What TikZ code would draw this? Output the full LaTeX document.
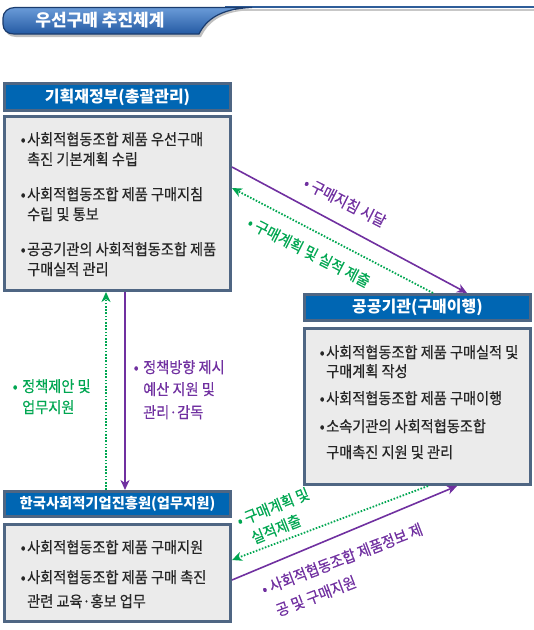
\documentclass[tikz,border=0pt]{standalone}
\usepackage{fontspec}
\setmainfont{Noto Sans CJK KR}
\newfontfamily\krn[FakeStretch=0.915,FakeBold=0.4]{Noto Sans CJK KR}
\usetikzlibrary{arrows.meta,calc}
\definecolor{hdrblue}{HTML}{0066B3}
\definecolor{slate}{HTML}{4F6683}
\definecolor{bodygray}{HTML}{EBEBEB}
\definecolor{txtcol}{HTML}{262626}
\definecolor{purp}{HTML}{7030A0}
\definecolor{grn}{HTML}{00A651}
\definecolor{navy}{HTML}{1B3C6E}
\definecolor{tabtop}{HTML}{6A9BD8}
\definecolor{tabbot}{HTML}{245AA3}
\definecolor{rule}{HTML}{2F5D99}
\newcommand\bt{\krn\fontsize{15.5}{18}\selectfont}
\newcommand\blt[1]{\makebox[#1][c]{•}}
\begin{document}
\begin{tikzpicture}[x=1pt,y=-1pt,
  hdr/.style={draw=slate,line width=3pt,fill=hdrblue,minimum width=226pt,text=white,
    font=\fontsize{16}{18}\selectfont\bfseries,inner sep=0pt},
  bodybox/.style={draw=slate,line width=3pt,fill=bodygray,minimum width=226pt,inner sep=0pt},
  ln/.style={anchor=base west,inner sep=0pt,font=\bt,text=txtcol},
  glab/.style={anchor=base west,inner sep=0pt,font=\bt,text=grn},
  plab/.style={anchor=base west,inner sep=0pt,font=\bt,text=purp},
  rlab/.style={inner sep=0pt,font=\bt},
  parr/.style={draw=purp,line width=1.6pt,-{Stealth[length=10pt,width=9pt,inset=3pt]}},
  garr/.style={draw=grn,line width=1.8pt,dash pattern=on 1.6pt off 1.6pt,-{Stealth[length=10pt,width=9pt,inset=3pt]}}
]
\useasboundingbox (0,0) rectangle (534,630);

% title banner
\draw[black!22,line width=2pt] (235,10) -- (534,10);
\draw[rule,line width=1.6pt] (225,7) -- (534,7);
\path[fill=black!25] (17,10.5) -- (247,10.5) .. controls (220,12) and (208,23) .. (201,37) -- (16,37) .. controls (9,37) and (5,33) .. (5,27) -- (5,21) .. controls (5,15) and (10,10.5) .. (17,10.5) -- cycle;
\draw[navy,line width=1.2pt,top color=tabtop,bottom color=tabbot] (15,7.5) -- (252,7.5) .. controls (220,8.5) and (206,20) .. (199,34) -- (14,34) .. controls (7,34) and (3,30) .. (3,24) -- (3,18) .. controls (3,12) and (8,7.5) .. (15,7.5) -- cycle;
\node[font=\fontsize{17}{19}\selectfont\bfseries,text=white,inner sep=0pt] (ttl) at (100,20.5) {우선구매 추진체계};

% box 1
\node[hdr,minimum height=27pt] (h1) at (117.5,97) {기획재정부(총괄관리)};
\node[bodybox,minimum height=174pt] (b1) at (117.5,203.5) {};
\node[ln] (t11) at (19,145) {\blt{8pt}사회적협동조합 제품 우선구매};
\node[ln] (t12) at (27,165) {촉진 기본계획 수립};
\node[ln] (t13) at (19,200) {\blt{8pt}사회적협동조합 제품 구매지침};
\node[ln] (t14) at (27,220) {수립 및 통보};
\node[ln] (t15) at (19,255) {\blt{8pt}공공기관의 사회적협동조합 제품};
\node[ln] (t16) at (27,275) {구매실적 관리};

% box 2
\node[hdr,minimum height=26pt] (h2) at (417.5,307.5) {공공기관(구매이행)};
\node[bodybox,minimum height=156pt] (b2) at (417.5,406.5) {};
\node[ln] (t21) at (318,358) {\blt{8pt}사회적협동조합 제품 구매실적 및};
\node[ln] (t22) at (326,377) {구매계획 작성};
\node[ln] (t23) at (318,404) {\blt{8pt}사회적협동조합 제품 구매이행};
\node[ln] (t24) at (318,432) {\blt{8pt}소속기관의 사회적협동조합};
\node[ln] (t25) at (326,458) {구매촉진 지원 및 관리};

% box 3
\node[hdr,minimum height=25pt,font=\fontsize{14.3}{16}\selectfont\bfseries] (h3) at (117.5,504) {한국사회적기업진흥원(업무지원)};
\node[bodybox,minimum height=97pt] (b3) at (117.5,573) {};
\node[ln] (t31) at (19,553) {\blt{8pt}사회적협동조합 제품 구매지원};
\node[ln] (t32) at (19,583) {\blt{8pt}사회적협동조합 제품 구매 촉진};
\node[ln] (t33) at (27,607) {관련 교육·홍보 업무};

% connectors
\draw[parr] ($(b1.north east)+(0,52)$) -- ($(h2.north west)+(164,0)$);
\draw[garr] ($(h2.north west)+(130,0)$) -- ($(b1.north east)+(0,73)$);
\draw[garr] ($(h3.north west)+(103,0)$) -- ($(b1.south west)+(103,0)$);
\draw[parr] ($(b1.south west)+(122,0)$) -- ($(h3.north west)+(122,0)$);
\draw[garr] ($(b2.south west)+(125,0)$) -- ($(b3.north east)+(0,37)$);
\draw[parr] ($(b3.north east)+(0,57)$) -- ($(b2.south west)+(154,0)$);

% labels
\node[glab] (g1) at (8,392) {\blt{14pt}정책제안 및};
\node[glab] (g2) at (22,413) {업무지원};
\node[plab] (p1) at (129,373) {\blt{14pt}정책방향 제시};
\node[plab] (p2) at (143,395) {예산 지원 및};
\node[plab] (p3) at (143,418) {관리·감독};

\node[rlab,text=purp,rotate=-27] (l1) at (345,202) {• 구매지침 시달};
\node[rlab,text=grn,rotate=-27] (l2) at (309,252) {• 구매계획 및 실적 제출};
\node[rlab,text=grn,rotate=22] (l5a) at (273,507) {• 구매계획 및};
\node[rlab,text=grn,rotate=22] (l5b) at (276,529) {실적제출};
\node[rlab,text=purp,rotate=21] (l6a) at (342,559) {• 사회적협동조합 제품정보 제};
\node[rlab,text=purp,rotate=21] (l6b) at (316,596) {공 및 구매지원};
\end{tikzpicture}
\end{document}
